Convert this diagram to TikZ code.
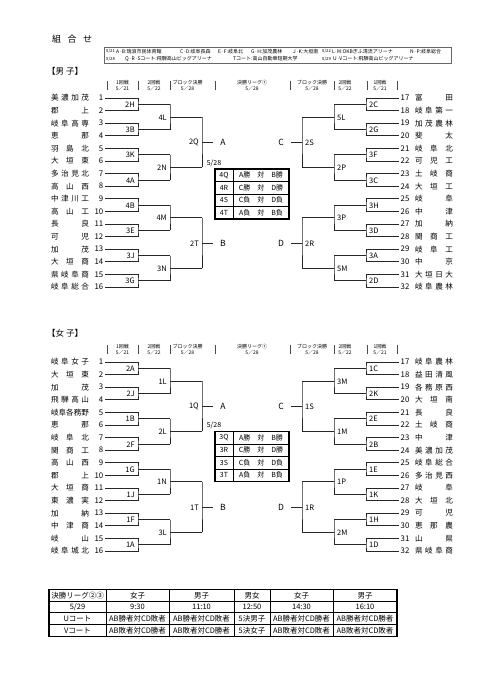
\documentclass[tikz,border=0pt]{standalone}
\usepackage{fontspec}
\setmainfont{Noto Sans CJK JP}
\ExplSyntaxOn
\NewDocumentCommand\spr{O{38pt}m}{
  \tl_set:Nx \l_tmpb_tl {#2}
  \seq_clear:N \l_tmpa_seq
  \tl_map_inline:Nn \l_tmpb_tl { \seq_put_right:Nn \l_tmpa_seq {##1} }
  \makebox[#1][s]{ \seq_use:Nn \l_tmpa_seq { \hfill } }
}
\ExplSyntaxOff
\tikzset{
 xbr/.style={line width=0.8pt, draw=black!85},
 xteam/.style={font=\fontsize{7.6}{9}\selectfont, inner sep=0pt},
 xnum/.style={font=\fontsize{7.8}{9}\selectfont, inner sep=0pt},
 xlab/.style={font=\fontsize{7.5}{8}\selectfont, inner sep=0.5pt},
 xlet/.style={font=\fontsize{8.5}{9}\selectfont, inner sep=0pt},
 xhd/.style={font=\fontsize{5}{5.8}\selectfont, align=center, inner sep=0pt},
 xsep/.style={line width=0.5pt, draw=black!70},
 xtout/.style={line width=1.1pt},
 xtin/.style={line width=0.5pt},
 xcell/.style={font=\fontsize{7.5}{8}\selectfont, inner sep=0pt},
 xctab/.style={font=\fontsize{7}{8}\selectfont, inner sep=0pt},
 xtiny/.style={font=\fontsize{5}{6}\selectfont, inner sep=0pt, anchor=west},
 xdate/.style={font=\fontsize{4.2}{5}\selectfont, inner sep=0pt, anchor=west},
}
% half bracket
\newcommand\bhalf[9]{%
 \foreach \i/\nm in {#5}{%
  \pgfmathsetmacro\yy{#2+12.6*\i}%
  \pgfmathtruncatemacro\tnum{#4+\i}%
  \coordinate (#1t\i) at ({252+(#3)*(105-252)},\yy);
  \node[xnum,anchor=#9] (#1n\i) at ({252+(#3)*(103.5-252)},\yy) {\tnum};
  \node[xteam] (#1s\i) at ({252+(#3)*(70-252)},\yy) {\spr{\nm}};
 }%
 \foreach \m/\lbl in {#6}{%
  \pgfmathsetmacro\yc{#2+12.6*(2*\m+0.5)}%
  \pgfmathtruncatemacro\ta{2*\m}%
  \pgfmathtruncatemacro\tb{2*\m+1}%
  \coordinate (#1a\m) at ({252+(#3)*(138-252)},\yc);
  \coordinate (#1ao\m) at ({252+(#3)*(170-252)},\yc);
  \draw[xbr] (#1t\ta) -| (#1a\m) |- (#1t\tb);
  \draw[xbr] (#1a\m) -- (#1ao\m);
  \node[xlab,anchor=#9] (#1al\m) at ({252+(#3)*(135.5-252)},{\yc+0.5}) {\lbl};
 }%
 \foreach \n/\lbl in {#7}{%
  \pgfmathsetmacro\yc{#2+12.6*(4*\n+1.5)}%
  \pgfmathtruncatemacro\pa{2*\n}%
  \pgfmathtruncatemacro\pb{2*\n+1}%
  \coordinate (#1b\n) at ({252+(#3)*(170-252)},\yc);
  \coordinate (#1bo\n) at ({252+(#3)*(202-252)},\yc);
  \draw[xbr] (#1ao\pa) -| (#1b\n) |- (#1ao\pb);
  \draw[xbr] (#1b\n) -- (#1bo\n);
  \node[xlab,anchor=#9] (#1bl\n) at ({252+(#3)*(167.5-252)},{\yc+0.5}) {\lbl};
 }%
 \foreach \k/\lbl/\ltr in {#8}{%
  \pgfmathsetmacro\yc{#2+12.6*(8*\k+3.5)}%
  \pgfmathtruncatemacro\pa{2*\k}%
  \pgfmathtruncatemacro\pb{2*\k+1}%
  \coordinate (#1c\k) at ({252+(#3)*(202-252)},\yc);
  \coordinate (#1co\k) at ({252+(#3)*(213-252)},\yc);
  \draw[xbr] (#1bo\pa) -| (#1c\k) |- (#1bo\pb);
  \draw[xbr] (#1c\k) -- (#1co\k);
  \node[xlab,anchor=#9] (#1cl\k) at ({252+(#3)*(199.5-252)},{\yc+0.5}) {\lbl};
  \node[xlet] (#1L\k) at ({252+(#3)*(223-252)},\yc) {\ltr};
 }%
}
% center table
\newcommand\ctab[3]{%
 \node[xctab] (#1date) at (214,{#2-6}) {5/28};
 \draw[xtout] (215,#2) rectangle (289,{#2+50});
 \draw[xtin] (233,#2) -- (233,{#2+50});
 \foreach \k in {1,2,3} \draw[xtin] (215,{#2+12.5*\k}) -- (289,{#2+12.5*\k});
 \foreach \r/\ccode/\ctx in {#3}{%
   \node[xctab] (#1c\r) at (224,{#2+12.5*\r+6.25}) {\ccode};
   \node[xctab] (#1x\r) at (261,{#2+12.5*\r+6.25}) {\ctx};
 }%
}
% column headers
\newcommand\hdr[2]{%
 \foreach \xx in {107,138,170,215,290,334,367,397}
   \draw[xsep] (\xx,{#2-4.5}) -- (\xx,{#2+4.5});
 \foreach \xx/\tx [count=\c] in {122.5/{1回戦\\5／21},154/{2回戦\\5／22},187.5/{ブロック決勝\\5／28},252/{決勝リーグ①\\5／28},312/{ブロック決勝\\5／28},345/{2回戦\\5／22},380/{1回戦\\5／21}}
   \node[xhd] (#1\c) at (\xx,#2) {\tx};
}
\begin{document}
\begin{tikzpicture}[x=1pt,y=-1pt]
\fill[white] (0,0) rectangle (481,680);
\useasboundingbox (0,0) rectangle (481,680);
% title and info box
\node[font=\fontsize{9}{10}\selectfont, anchor=west, inner sep=0pt] (title) at (52,39) {\spr[40pt]{組合せ}};
\draw[line width=0.6pt, draw=black!60] (104,47.3) rectangle (451,63.5);
\node[xdate] (i1) at (106,51.5) {5/21};
\node[xtiny] (i2) at (116,51.5) {A·B:瑞浪市民体育館};
\node[xtiny] (i3) at (180,51.5) {C·D:岐阜長森};
\node[xtiny] (i4) at (218,51.5) {E·F:岐阜北};
\node[xtiny] (i5) at (251,51.5) {G·H:加茂農林};
\node[xtiny] (i6) at (293,51.5) {J·K:大垣南};
\node[xdate] (i7) at (322,51.5) {5/22};
\node[xtiny] (i8) at (332,51.5) {L·M:OKBぎふ清流アリーナ};
\node[xtiny] (i9) at (410,51.5) {N·P:岐阜総合};
\node[xdate] (j1) at (106,59) {5/28};
\node[xtiny] (j2) at (125,59) {Q·R·Sコート:飛騨高山ビッグアリーナ};
\node[xtiny] (j3) at (233,59) {Tコート:高山自動車短期大学};
\node[xdate] (j4) at (322,59) {5/29};
\node[xtiny] (j5) at (333,59) {U·Vコート:飛騨高山ビッグアリーナ};
% men
\node[font=\fontsize{8.5}{9}\selectfont, anchor=west, inner sep=0pt] (mhead) at (47,71) {【男\ 子】};
\hdr{mH}{85.5}
\bhalf{mL}{98}{1}{1}{0/美濃加茂,1/郡上,2/岐阜高専,3/恵那,4/羽島北,5/大垣東,6/多治見北,7/高山西,8/中津川工,9/高山工,10/長良,11/可児,12/加茂,13/大垣商,14/県岐阜商,15/岐阜総合}{0/2H,1/3B,2/3K,3/4A,4/4B,5/3E,6/3J,7/3G}{0/4L,1/2N,2/4M,3/3N}{0/2Q/A,1/2T/B}{east}
\bhalf{mR}{98}{-1}{17}{0/富田,1/岐阜第一,2/加茂農林,3/斐太,4/岐阜北,5/可児工,6/土岐商,7/大垣工,8/岐阜,9/中津,10/加納,11/関商工,12/岐阜工,13/中京,14/大垣日大,15/岐阜農林}{0/2C,1/2G,2/3F,3/3C,4/3H,5/3D,6/3A,7/2D}{0/5L,1/2P,2/3P,3/5M}{0/2S/C,1/2R/D}{west}
\ctab{mT}{169}{0/4Q/A勝　対　B勝,1/4R/C勝　対　D勝,2/4S/C負　対　D負,3/4T/A負　対　B負}
% women
\node[font=\fontsize{8.5}{9}\selectfont, anchor=west, inner sep=0pt] (whead) at (47,333) {【女\ 子】};
\hdr{wH}{349.5}
\bhalf{wL}{362}{1}{1}{0/岐阜女子,1/大垣東,2/加茂,3/飛騨高山,4/岐阜各務野,5/恵那,6/岐阜北,7/関商工,8/高山西,9/郡上,10/大垣商,11/東濃実,12/加納,13/中津商,14/岐山,15/岐阜城北}{0/2A,1/2J,2/1B,3/2F,4/1G,5/1J,6/1F,7/1A}{0/1L,1/2L,2/1N,3/3L}{0/1Q/A,1/1T/B}{east}
\bhalf{wR}{362}{-1}{17}{0/岐阜農林,1/益田清風,2/各務原西,3/大垣南,4/長良,5/土岐商,6/中津,7/美濃加茂,8/岐阜総合,9/多治見西,10/岐阜,11/大垣北,12/可児,13/恵那農,14/山県,15/県岐阜商}{0/1C,1/2K,2/2E,3/2B,4/1E,5/1K,6/1H,7/1D}{0/3M,1/1M,2/1P,3/2M}{0/1S/C,1/1R/D}{west}
\ctab{wT}{431.5}{0/3Q/A勝　対　B勝,1/3R/C勝　対　D勝,2/3S/C負　対　D負,3/3T/A負　対　B負}
% bottom table
\foreach \xx in {106,169,234,270,333} \draw[xtin] (\xx,589.5) -- (\xx,636.5);
\foreach \yy in {601,612.5,624.5} \draw[xtin] (49,\yy) -- (397,\yy);
\draw[xtout] (49,589.5) rectangle (397,636.5);
\foreach \xx/\tx [count=\c] in {77.5/決勝リーグ②③,137.5/女子,201.5/男子,252/男女,301.5/女子,365/男子}
  \node[xcell] (ba\c) at (\xx,595.5) {\tx};
\node[xcell] (bb1) at (77.5,607) {5/29};
\foreach \xx/\tx [count=\c from 2] in {137.5/9:30,201.5/11:10,252/12:50,301.5/14:30,365/16:10}
  \node[xcell] (bb\c) at (\xx,607) {\tx};
\foreach \xx/\tx [count=\c] in {77.5/Uコート,137.5/AB勝者対CD敗者,201.5/AB勝者対CD敗者,252/5決男子,301.5/AB勝者対CD勝者,365/AB勝者対CD勝者}
  \node[xcell] (bc\c) at (\xx,618.7) {\tx};
\foreach \xx/\tx [count=\c] in {77.5/Vコート,137.5/AB敗者対CD勝者,201.5/AB敗者対CD勝者,252/5決女子,301.5/AB敗者対CD敗者,365/AB敗者対CD敗者}
  \node[xcell] (bd\c) at (\xx,630.7) {\tx};
\end{tikzpicture}
\end{document}
